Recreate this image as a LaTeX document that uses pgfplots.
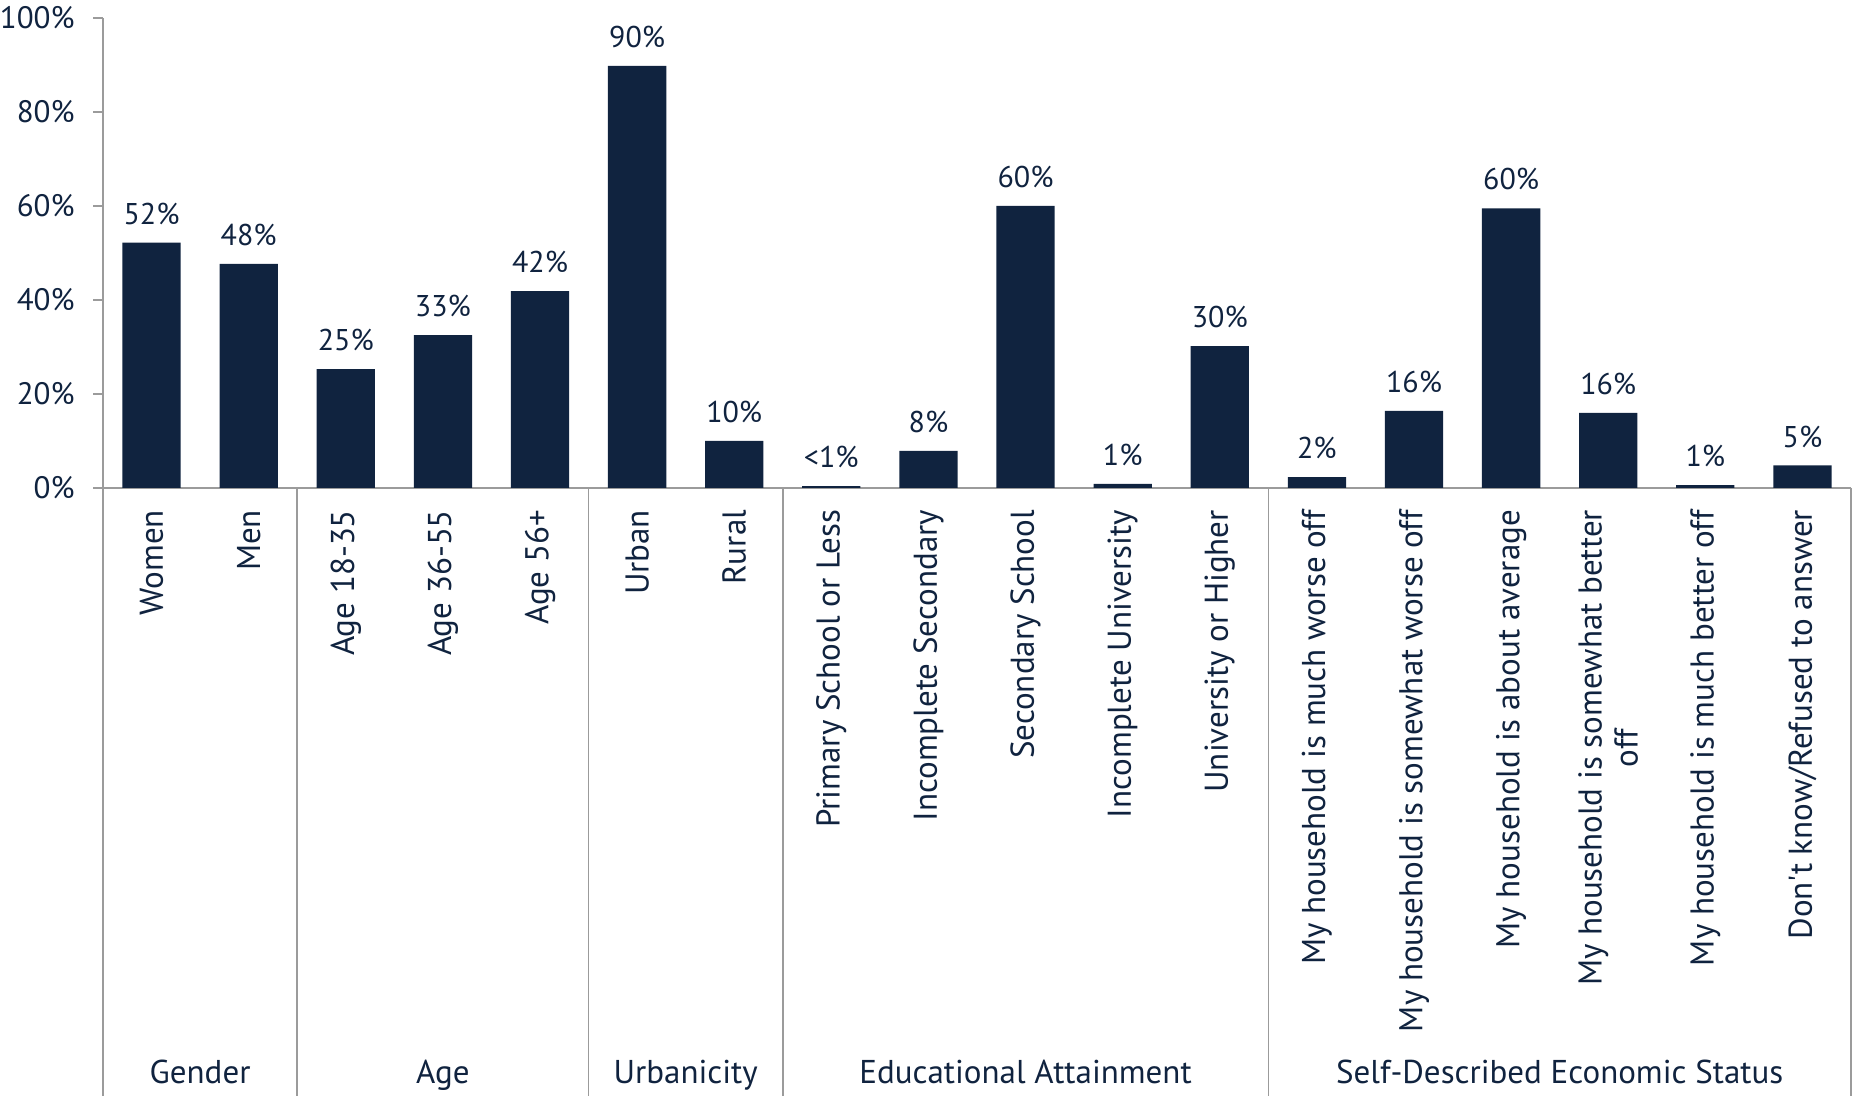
\documentclass[border=0pt]{standalone}
\usepackage{fontspec}
\setmainfont{PT Sans}
\usepackage{pgfplots}
\pgfplotsset{compat=1.18}
\definecolor{navy}{HTML}{10233F}
\definecolor{axgray}{HTML}{9B9B9B}
\begin{document}
\fontsize{15}{18}\selectfont
\begin{tikzpicture}
\useasboundingbox (0,0) rectangle (926.5pt,548pt);
\begin{axis}[
  at={(51.5pt,304pt)}, anchor=south west,
  scale only axis, width=874pt, height=235pt,
  xmin=-0.5, xmax=17.5, ymin=0, ymax=100,
  axis x line*=bottom, axis y line*=left,
  axis line style={axgray, line width=0.8pt},
  ytick={0,20,...,100},
  yticklabels={0\%,20\%,40\%,60\%,80\%,100\%},
  tick align=outside, major tick length=5pt,
  ytick style={axgray, line width=0.8pt},
  xtick={0,...,17}, xtick style={draw=none},
  xticklabels={Women,Men,Age 18-35,Age 36-55,Age 56+,Urban,Rural,
    Primary School or Less,Incomplete Secondary,Secondary School,Incomplete University,University or Higher,
    My household is much worse off,My household is somewhat worse off,My household is about average,
    {My household is somewhat better\\off},My household is much better off,Don\textquotesingle t know/Refused to answer},
  xticklabel style={rotate=90, anchor=east, align=center, font=\fontsize{16.5}{18}\selectfont, text=navy},
  xticklabel shift=0.8pt,
  yticklabel style={font=\fontsize{15.5}{17}\selectfont, text=navy},
  yticklabel shift=4pt,
  clip=false,
]
\addplot[ybar, fill=navy, draw=none, bar width=0.6,
  nodes near coords={\pgfplotspointmeta\%},
  nodes near coords style={font=\fontsize{15}{17}\selectfont, text=navy, anchor=south, yshift=3.8pt},
  point meta=explicit symbolic]
  table[x=x, y=y, meta=lab] {
x y lab
0 52.2 52
1 47.7 48
2 25.3 25
3 32.5 33
4 41.9 42
5 89.8 90
6 10.0 10
7 0.4 <1
8 7.9 8
9 60.0 60
10 0.9 1
11 30.2 30
12 2.3 2
13 16.4 16
14 59.5 60
15 16.0 16
16 0.6 1
17 4.8 5
};
\pgfplotsinvokeforeach{-0.5,1.5,4.5,6.5,11.5,17.5}{
  \draw[axgray, line width=0.8pt] (axis cs:#1,0) -- (axis cs:#1,-130);
}
\tikzset{grp/.style={text=navy, anchor=base, font=\fontsize{16.5}{18}\selectfont}}
\node[grp] at (axis cs:0.5,-126.6) {Gender};
\node[grp] at (axis cs:3,-126.6) {Age};
\node[grp] at (axis cs:5.5,-126.6) {Urbanicity};
\node[grp] at (axis cs:9,-126.6) {Educational Attainment};
\node[grp] at (axis cs:14.5,-126.6) {Self-Described Economic Status};
\end{axis}
\end{tikzpicture}
\end{document}
